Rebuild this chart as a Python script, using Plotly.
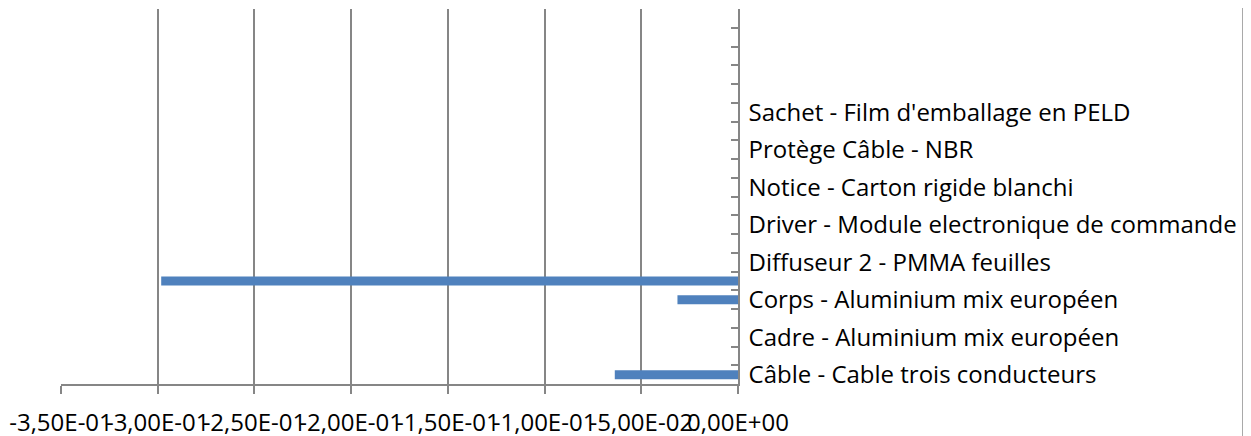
import plotly.graph_objects as go

# Category labels (every other category label is hidden in the reference, as in Excel's label interval of 2)
categories = [
    "Câble - Cable trois conducteurs", "",
    "Cadre - Aluminium mix européen", "",
    "Corps - Aluminium mix européen", "",
    "Diffuseur 2 - PMMA feuilles", "",
    "Driver - Module electronique de commande", "",
    "Notice - Carton rigide blanchi", "",
    "Protège Câble - NBR", "",
    "Sachet - Film d'emballage en PELD", "",
    "", "", "", "",
]
values = [
    -0.0637, 0, 0, 0, -0.0313, -0.2982, 0, 0, 0, 0,
    0, 0, 0, 0, 0, 0, 0, 0, 0, 0,
]
x_ticks = [-0.35, -0.30, -0.25, -0.20, -0.15, -0.10, -0.05, 0.0]
x_tick_labels = ["-3,50E-01", "-3,00E-01", "-2,50E-01", "-2,00E-01",
                 "-1,50E-01", "-1,00E-01", "-5,00E-02", "0,00E+00"]

positions = list(range(len(categories)))
label_pos = [p for p, c in zip(positions, categories) if c]
label_txt = [c for c in categories if c]
boundaries = [p - 0.5 for p in positions] + [len(categories) - 0.5]

FONT = "Open Sans"
GRID = "#868686"

fig = go.Figure()
fig.add_trace(go.Bar(
    y=positions, x=values, orientation="h", width=0.48,
    marker=dict(color="#4F81BD", line=dict(width=0)),
    showlegend=False,
))
# invisible trace bound to the tick-mark axis
fig.add_trace(go.Scatter(x=[None], y=[None], yaxis="y2", showlegend=False))

yrange = [-0.5, len(categories) - 0.5]
fig.update_layout(
    width=1251, height=436,
    margin=dict(l=53, r=521, t=1, b=60),
    paper_bgcolor="white", plot_bgcolor="white",
    font=dict(family=FONT, size=24, color="black"),
    xaxis=dict(
        range=[-0.35, 0], tickvals=x_ticks, ticktext=x_tick_labels,
        tickangle=0, ticklabelstandoff=8,
        showgrid=True, gridcolor=GRID, gridwidth=1.5,
        showline=True, linecolor=GRID, linewidth=1.5,
        ticks="outside", ticklen=8, tickcolor=GRID, tickwidth=1.5,
        zeroline=False, automargin=False,
        tickfont=dict(family=FONT, size=24, color="black"),
    ),
    yaxis=dict(
        range=yrange, side="right", tickvals=label_pos, ticktext=label_txt,
        showgrid=False, zeroline=False,
        showline=True, linecolor=GRID, linewidth=1.5,
        ticks="", ticklabelstandoff=4, automargin=False,
        tickfont=dict(family=FONT, size=24, color="black"),
    ),
    yaxis2=dict(
        range=yrange, overlaying="y", side="right", tickvals=boundaries,
        showticklabels=False, showgrid=False, zeroline=False, showline=False,
        ticks="inside", ticklen=7, tickcolor=GRID, tickwidth=1.5,
        automargin=False,
    ),
    shapes=[dict(type="line", xref="paper", yref="paper",
                 x0=1.746, x1=1.746, y0=-0.3, y1=1.1,
                 line=dict(color=GRID, width=1.5))],
)

fig.write_html("out.html")
